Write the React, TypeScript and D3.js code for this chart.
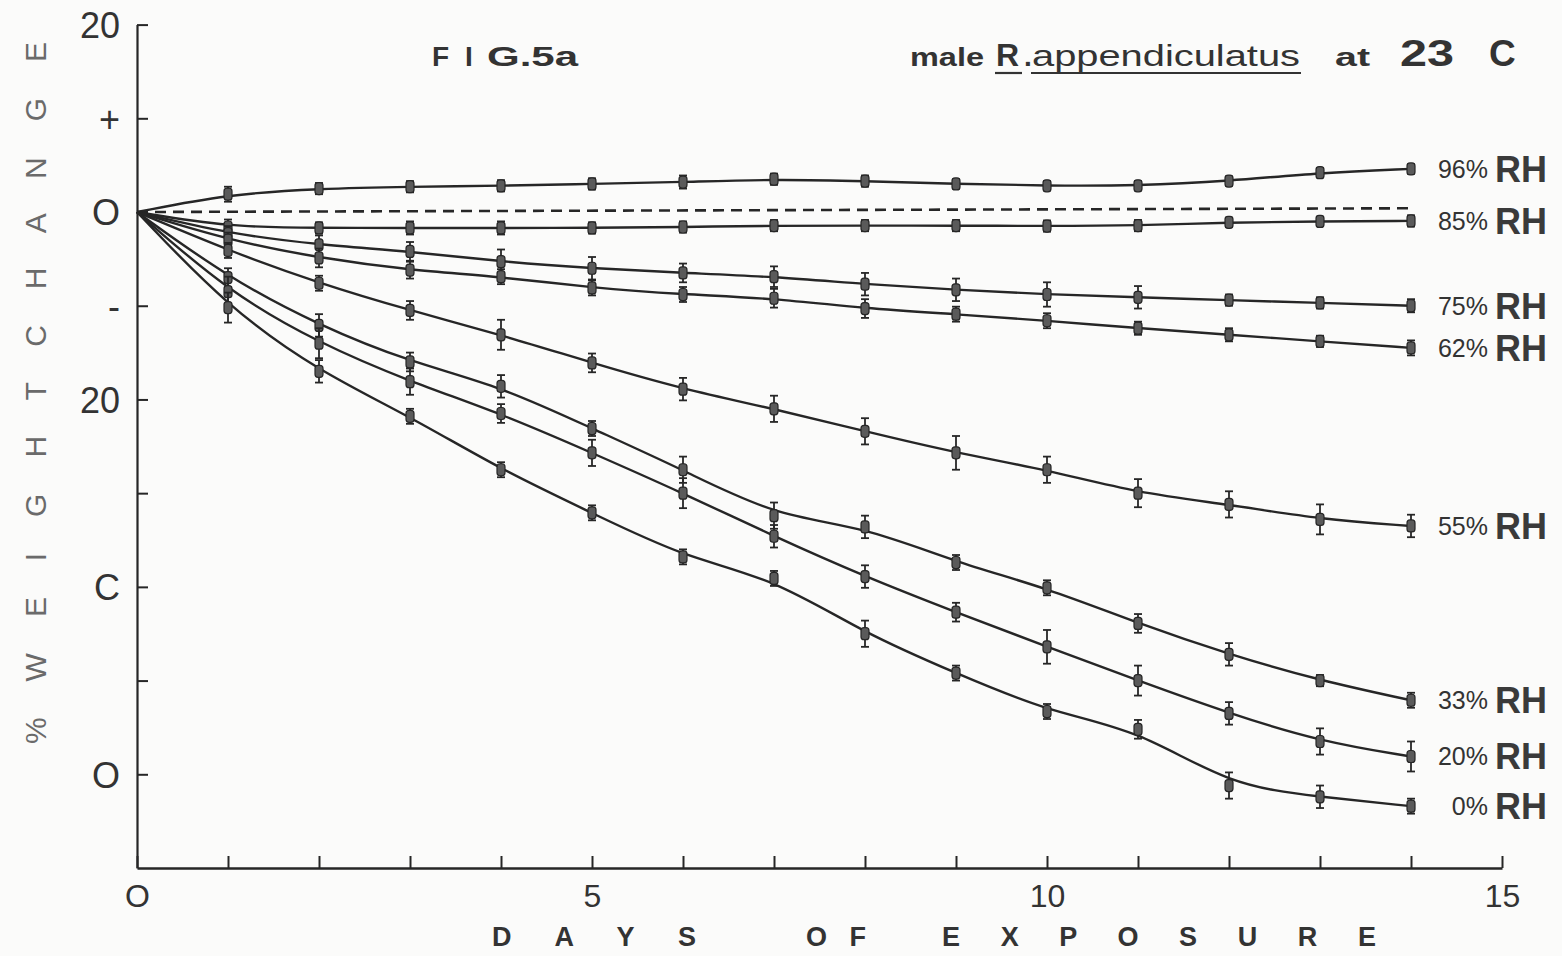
import React, { useEffect, useRef } from "react";
import * as d3 from "d3";

const WIDTH = 1562;
const HEIGHT = 956;

// days of exposure (day 0 = origin, every curve starts there)
const days = [0, 1, 2, 3, 4, 5, 6, 7, 8, 9, 10, 11, 12, 13, 14];

// % weight change
const rh96 = [0, 1.9, 2.5, 2.7, 2.8, 3.0, 3.2, 3.5, 3.3, 3.0, 2.8, 2.8, 3.3, 4.2, 4.6];
const rh85 = [0, -1.6, -1.7, -1.7, -1.7, -1.7, -1.6, -1.45, -1.45, -1.45, -1.5, -1.45, -1.1, -1.0, -0.95];
const rh75 = [0, -2.3, -3.5, -4.2, -5.3, -6.0, -6.5, -6.9, -7.7, -8.3, -8.8, -9.1, -9.4, -9.7, -10.0];
const rh62 = [0, -3.0, -4.9, -6.2, -6.9, -8.1, -8.8, -9.2, -10.3, -10.9, -11.6, -12.4, -13.1, -13.8, -14.5];
const rh55 = [0, -4.1, -7.6, -10.5, -13.1, -16.1, -18.9, -21.0, -23.4, -25.7, -27.5, -30.0, -31.2, -32.8, -33.5];
const rh33 = [0, -7.0, -12.1, -16.0, -18.6, -23.1, -27.5, -32.4, -33.6, -37.4, -40.1, -43.9, -47.2, -50.0, -52.1];
const rh20 = [0, -8.5, -14.0, -18.1, -21.5, -25.7, -30.0, -34.6, -38.9, -42.7, -46.4, -50.0, -53.5, -56.5, -58.1];
const rh0 = [0, -10.2, -17.0, -21.8, -27.5, -32.1, -36.8, -39.1, -45.0, -49.2, -53.3, -55.2, -61.2, -62.4, -63.4];

// half length of the error bars
const e96 = [0, 0.8, 0.6, 0.6, 0.6, 0.6, 0.7, 0.6, 0.6, 0.5, 0.5, 0.5, 0.5, 0.5, 0.5];
const e85 = [0, 0.8, 0.6, 0.7, 0.7, 0.6, 0.6, 0.6, 0.6, 0.6, 0.6, 0.6, 0.5, 0.5, 0.6];
const e75 = [0, 0.8, 1.0, 1.0, 1.3, 1.2, 1.0, 1.1, 1.2, 1.2, 1.3, 1.2, 0.6, 0.6, 0.7];
const e62 = [0, 0.8, 1.0, 0.9, 0.8, 0.8, 0.8, 1.0, 1.0, 0.8, 0.8, 0.7, 0.7, 0.6, 0.8];
const e55 = [0, 0.8, 0.8, 1.0, 1.6, 1.0, 1.2, 1.4, 1.4, 1.8, 1.4, 1.5, 1.4, 1.6, 1.2];
const e33 = [0, 1.0, 1.2, 1.0, 1.2, 0.8, 1.4, 1.4, 1.2, 0.8, 0.8, 1.0, 1.2, 0.6, 0.8];
const e20 = [0, 1.6, 1.6, 1.4, 1.0, 1.4, 1.6, 1.2, 1.2, 1.0, 1.8, 1.6, 1.2, 1.4, 1.6];
const e0 = [0, 1.6, 1.2, 0.8, 0.8, 0.8, 0.8, 0.8, 1.4, 0.8, 0.8, 1.0, 1.4, 1.2, 0.8];

const rhLabels = ["96%", "85%", "75%", "62%", "55%", "33%", "20%", "0%"];
const rhValues = [rh96, rh85, rh75, rh62, rh55, rh33, rh20, rh0];
const rhErrors = [e96, e85, e75, e62, e55, e33, e20, e0];

// dashed reference line (start, end)
const refDays = [0, 14];
const refValues = [0, 0.4];

const yTicks = [20, 10, 0, -10, -20, -30, -40, -50, -60];
const yTickLabels = ["20", "+", "O", "-", "20", "", "C", "", "O"];
const xTicks = [0, 1, 2, 3, 4, 5, 6, 7, 8, 9, 10, 11, 12, 13, 14, 15];
const xTickLabels: Record<number, string> = { 0: "O", 5: "5", 10: "10", 15: "15" };

const INK = "#262626";
const FONT = "'Liberation Sans', Arial, sans-serif";

export default function App() {
  const ref = useRef<SVGSVGElement>(null);

  useEffect(() => {
    const container = ref.current;
    if (!container) return;

    const svg = d3.select(container);
    svg.selectAll("*").remove();

    svg
      .append("rect")
      .attr("width", WIDTH)
      .attr("height", HEIGHT)
      .attr("fill", "#fbfbfa");

    const x = d3.scaleLinear().domain([0, 15]).range([137, 1502]);
    const y = d3.scaleLinear().domain([-70, 20]).range([868, 24.6]);

    // axes
    const yAxis = d3
      .axisLeft(y)
      .tickValues(yTicks)
      .tickSize(-11)
      .tickSizeOuter(0)
      .tickPadding(17)
      .tickFormat((d, i) => yTickLabels[i]);

    const gy = svg.append("g").attr("transform", `translate(${x(0)},0)`).call(yAxis);
    gy.select(".domain").attr("stroke", INK).attr("stroke-width", 2.2);
    gy.selectAll(".tick line").attr("stroke", INK).attr("stroke-width", 2);
    gy.selectAll(".tick text")
      .attr("font-family", FONT)
      .attr("font-size", 36)
      .attr("fill", "#333")
      .attr("dy", "0.36em");

    const xAxis = d3
      .axisBottom(x)
      .tickValues(xTicks)
      .tickSize(-12)
      .tickSizeOuter(0)
      .tickPadding(16)
      .tickFormat((d) => xTickLabels[d as number] ?? "");

    const gx = svg.append("g").attr("transform", `translate(0,${y(-70)})`).call(xAxis);
    gx.select(".domain").attr("stroke", INK).attr("stroke-width", 2.4);
    gx.selectAll(".tick line").attr("stroke", INK).attr("stroke-width", 2);
    gx.selectAll(".tick text")
      .attr("font-family", FONT)
      .attr("font-size", 32)
      .attr("fill", "#333");

    // dashed zero line
    const refLine = d3
      .line<number>()
      .x((d, i) => x(refDays[i]))
      .y((d) => y(d));
    svg
      .append("path")
      .attr("d", refLine(refValues))
      .attr("fill", "none")
      .attr("stroke", INK)
      .attr("stroke-width", 2.6)
      .attr("stroke-dasharray", "11,7");

    const curve = d3
      .line<number>()
      .x((d, i) => x(days[i]))
      .y((d) => y(d))
      .curve(d3.curveBasis);

    rhValues.forEach((values, s) => {
      const g = svg.append("g");
      g.append("path")
        .attr("d", curve(values))
        .attr("fill", "none")
        .attr("stroke", INK)
        .attr("stroke-width", 2.4);

      const errs = rhErrors[s];
      values.forEach((v, i) => {
        if (days[i] === 0) return;
        const cx = x(days[i]);
        const top = y(v + errs[i]);
        const bot = y(v - errs[i]);
        g.append("line")
          .attr("x1", cx)
          .attr("x2", cx)
          .attr("y1", top)
          .attr("y2", bot)
          .attr("stroke", INK)
          .attr("stroke-width", 1.8);
        [top, bot].forEach((cy) =>
          g
            .append("line")
            .attr("x1", cx - 4)
            .attr("x2", cx + 4)
            .attr("y1", cy)
            .attr("y2", cy)
            .attr("stroke", INK)
            .attr("stroke-width", 1.8)
        );
        g.append("rect")
          .attr("x", cx - 4)
          .attr("y", y(v) - 6)
          .attr("width", 8)
          .attr("height", 12)
          .attr("rx", 3)
          .attr("fill", "#5a5a5a")
          .attr("stroke", INK)
          .attr("stroke-width", 1.2);
      });

      // end label
      const ly = y(values[values.length - 1]);
      svg
        .append("text")
        .attr("x", 1488)
        .attr("y", ly)
        .attr("dy", "0.36em")
        .attr("font-family", FONT)
        .attr("fill", "#333")
        .attr("text-anchor", "end")
        .attr("font-size", 25)
        .text(rhLabels[s]);
      svg
        .append("text")
        .attr("x", 1495)
        .attr("y", ly)
        .attr("dy", "0.36em")
        .attr("font-family", FONT)
        .attr("font-weight", "bold")
        .attr("fill", "#3a3a3a")
        .attr("font-size", 36)
        .text("RH");
    });

    // titles: each word placed on its own, typewriter spacing
    const titleWords = [
      { text: "F", x0: 432, size: 28, len: 0, weight: "bold" },
      { text: "I", x0: 465, size: 28, len: 0, weight: "bold" },
      { text: "G.5a", x0: 487, size: 28, len: 91, weight: "bold" },
      { text: "male", x0: 910, size: 26, len: 74, weight: "bold" },
      { text: "R", x0: 996, size: 32, len: 0, weight: "bold" },
      { text: ".", x0: 1024, size: 28, len: 0, weight: "bold" },
      { text: "appendiculatus", x0: 1032, size: 29, len: 268, weight: "normal" },
      { text: "at", x0: 1335, size: 26, len: 35, weight: "bold" },
      { text: "23", x0: 1400, size: 37, len: 54, weight: "bold" },
      { text: "C", x0: 1489, size: 37, len: 0, weight: "bold" },
    ];
    titleWords.forEach((w) => {
      const t = svg
        .append("text")
        .attr("x", w.x0)
        .attr("y", 66)
        .attr("font-family", FONT)
        .attr("font-weight", w.weight)
        .attr("font-size", w.size)
        .attr("fill", "#333")
        .text(w.text);
      if (w.len) t.attr("textLength", w.len).attr("lengthAdjust", "spacingAndGlyphs");
    });
    // underlines for the species name
    [
      [995, 1022],
      [1031, 1301],
    ].forEach(([a, b]) =>
      svg
        .append("line")
        .attr("x1", a)
        .attr("x2", b)
        .attr("y1", 73)
        .attr("y2", 73)
        .attr("stroke", "#333")
        .attr("stroke-width", 2.2)
    );

    // axis titles
    svg
      .append("text")
      .attr("transform", "translate(46,744) rotate(-90)")
      .attr("font-family", FONT)
      .attr("font-size", 30)
      .attr("fill", "#6a6a6a")
      .attr("textLength", 702)
      .attr("lengthAdjust", "spacing")
      .text("% W E I G H T   C H A N G E");

    const xTitle = [
      { text: "D A Y S", x0: 492, len: 204 },
      { text: "O F", x0: 806, len: 60 },
      { text: "E X P O S U R E", x0: 942, len: 434 },
    ];
    xTitle.forEach((w) =>
      svg
        .append("text")
        .attr("x", w.x0)
        .attr("y", 946)
        .attr("font-family", FONT)
        .attr("font-weight", "bold")
        .attr("font-size", 27)
        .attr("fill", "#333")
        .attr("textLength", w.len)
        .attr("lengthAdjust", "spacing")
        .text(w.text)
    );
  }, [ref]);

  return (
    <svg
      ref={ref}
      width={WIDTH}
      height={HEIGHT}
      style={{ position: "absolute", left: 0, top: 0, display: "block" }}
    />
  );
}
